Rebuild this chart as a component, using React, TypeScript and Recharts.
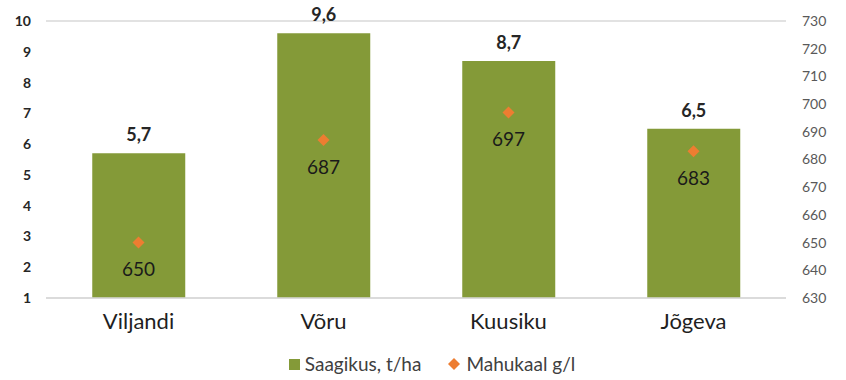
import React from "react";
import { ComposedChart, Bar, Line, XAxis, YAxis, CartesianGrid, LabelList, Legend } from "recharts";

const categories = ["Viljandi", "Võru", "Kuusiku", "Jõgeva"];
const saagikus = [5.7, 9.6, 8.7, 6.5];
const mahukaal = [650, 687, 697, 683];
const leftTicks = [1, 2, 3, 4, 5, 6, 7, 8, 9, 10];
const rightTicks = [630, 640, 650, 660, 670, 680, 690, 700, 710, 720, 730];
const seriesNames = ["Saagikus, t/ha", "Mahukaal g/l"];

const data = categories.map((c, i) => ({ name: c, saagikus: saagikus[i], mahukaal: mahukaal[i] }));

const GREEN = "#849A38";
const ORANGE = "#ED7D31";
const FONT = "Lato, 'Liberation Sans', sans-serif";

const Diamond = (props: any) => {
  const { cx, cy } = props;
  if (cx == null || cy == null) return null;
  const r = 6;
  return <polygon points={`${cx},${cy - r} ${cx + r},${cy} ${cx},${cy + r} ${cx - r},${cy}`} fill={ORANGE} />;
};

const LegendContent = () => (
  <div style={{ display: "flex", justifyContent: "center", alignItems: "center", fontFamily: FONT, fontSize: 19, color: "#404040", marginTop: 18, marginLeft: 18, lineHeight: "24px" }}>
    <span style={{ display: "inline-flex", alignItems: "center", marginRight: 27 }}>
      <svg width={11} height={11} style={{ marginRight: 5 }}><rect x={0} y={0} width={11} height={11} fill={GREEN} /></svg>
      {seriesNames[0]}
    </span>
    <span style={{ display: "inline-flex", alignItems: "center" }}>
      <svg width={12} height={12} style={{ marginRight: 6 }}><polygon points="6,0 12,6 6,12 0,6" fill={ORANGE} /></svg>
      {seriesNames[1]}
    </span>
  </div>
);

export default function App() {
  return (
    <div style={{ position: "absolute", left: 0, top: 0, width: 846, height: 380, background: "#fff" }}>
      <ComposedChart width={846} height={380} data={data} margin={{ top: 21, right: 0, bottom: 0, left: 0 }} barCategoryGap="25%">
        <CartesianGrid vertical={false} stroke="#d9d9d9" strokeWidth={1.5} />
        <XAxis
          dataKey="name"
          axisLine={{ stroke: "#d9d9d9", strokeWidth: 1.5 }}
          tickLine={false}
          height={36}
          tickMargin={9}
          tick={{ fontFamily: FONT, fontSize: 22, fill: "#1f1f1f" }}
        />
        <YAxis
          yAxisId="left"
          domain={[1, 10]}
          ticks={leftTicks}
          interval={0}
          width={46}
          axisLine={false}
          tickLine={false}
          tickMargin={9}
          tick={{ fontFamily: FONT, fontSize: 14, fontWeight: 700, fill: "#262626" }}
        />
        <YAxis
          yAxisId="right"
          orientation="right"
          domain={[630, 730]}
          ticks={rightTicks}
          interval={0}
          width={60}
          axisLine={false}
          tickLine={false}
          tickMargin={10}
          tick={{ fontFamily: FONT, fontSize: 14, fill: "#595959" }}
        />
        <Legend verticalAlign="bottom" height={46} content={<LegendContent />} />
        <Bar yAxisId="left" dataKey="saagikus" name={seriesNames[0]} fill={GREEN} isAnimationActive={false}>
          <LabelList
            dataKey="saagikus"
            position="top"
            offset={12}
            formatter={(v: any) => String(v).replace(".", ",")}
            style={{ fontFamily: FONT, fontSize: 18, fontWeight: 700, fill: "#262626" }}
          />
        </Bar>
        <Line
          yAxisId="right"
          dataKey="mahukaal"
          name={seriesNames[1]}
          stroke="none"
          dot={<Diamond />}
          activeDot={false}
          isAnimationActive={false}
        >
          <LabelList
            dataKey="mahukaal"
            position="bottom"
            offset={20}
            style={{ fontFamily: FONT, fontSize: 19, fill: "#1a1a1a" }}
          />
        </Line>
      </ComposedChart>
    </div>
  );
}
